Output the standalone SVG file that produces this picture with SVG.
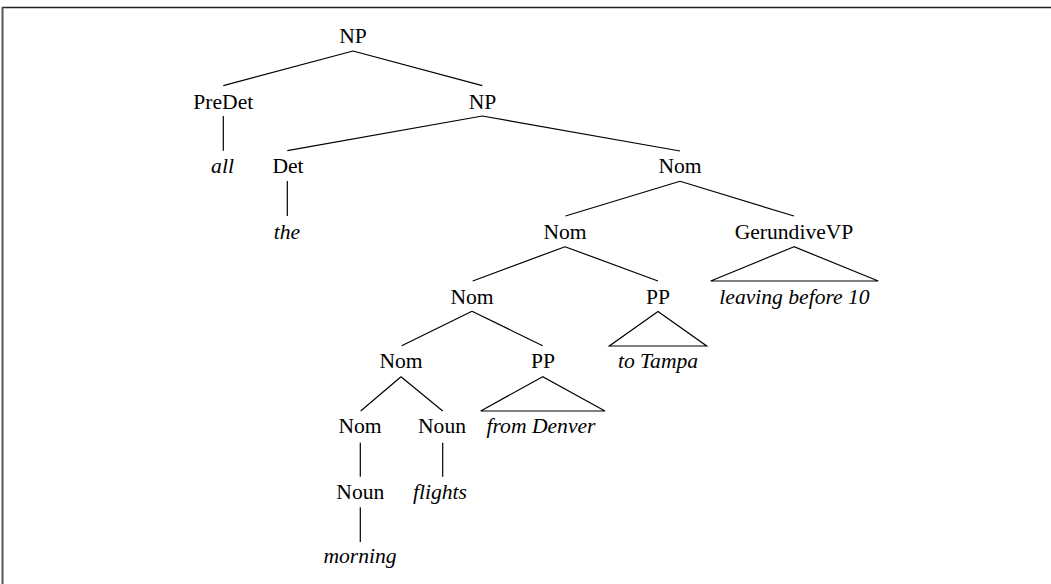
<svg xmlns="http://www.w3.org/2000/svg" width="1051" height="584" viewBox="0 0 1051 584">
<style>
text{font-family:"Liberation Serif","Times New Roman",serif;font-size:21.6px;fill:#000;text-anchor:middle}
.w{font-style:italic}
.e{stroke:#000;stroke-width:1.2;fill:none}
</style>
<rect x="0" y="0" width="1051" height="584" fill="#fff"/>
<g id="frame">
<line x1="2" y1="7.5" x2="1051" y2="7.5" stroke="#222" stroke-width="1.6"/>
<line x1="2.5" y1="7" x2="2.5" y2="584" stroke="#555" stroke-width="2"/>
</g>
<g id="connectors" class="e">
<path class="e" d="M353,51 L223.3,85.7 M353,51 L482.3,85.7"/>
<path class="e" d="M223.3,116 L223.3,150.7"/>
<path class="e" d="M482.3,116 L287.3,150.7 M482.3,116 L680,151"/>
<path class="e" d="M287.3,181 L287.3,216"/>
<path class="e" d="M680,181.3 L565.5,216 M680,181.3 L794,216"/>
<path class="e" d="M794,246.7 L710.7,281 L878.3,281 Z"/>
<path class="e" d="M565,246.7 L472.7,281 M565,246.7 L658,281"/>
<path class="e" d="M658,311.5 L609.3,346 L706.7,346 Z"/>
<path class="e" d="M472,311.3 L401.7,345.7 M472,311.3 L542.7,345.7"/>
<path class="e" d="M401,376.7 L360.7,411 M401,376.7 L442.7,411"/>
<path class="e" d="M542.7,376.7 L480.7,411 L605,411 Z"/>
<path class="e" d="M360.3,442.7 L360.3,476.7"/>
<path class="e" d="M442.7,442.7 L442.7,476.7"/>
<path class="e" d="M360.3,507.3 L360.3,542"/>
</g>
<g id="np0"><text x="353" y="42.5">NP</text></g>
<g id="predet"><text x="223.3" y="109">PreDet</text></g>
<g id="np1"><text x="482.5" y="109">NP</text></g>
<g id="all"><text class="w" x="222.5" y="173.3">all</text></g>
<g id="det"><text x="288" y="173.3">Det</text></g>
<g id="nom1"><text x="680" y="173.3">Nom</text></g>
<g id="the"><text class="w" x="287" y="238.5">the</text></g>
<g id="nom2"><text x="565" y="239">Nom</text></g>
<g id="gerundivevp"><text x="794" y="239">GerundiveVP</text></g>
<g id="nom3"><text x="472" y="304">Nom</text></g>
<g id="pp1"><text x="658" y="304">PP</text></g>
<g id="leaving"><text class="w" x="794.5" y="303.5">leaving before 10</text></g>
<g id="nom4"><text x="401" y="368.3">Nom</text></g>
<g id="pp2"><text x="543" y="368.3">PP</text></g>
<g id="totampa"><text class="w" x="658" y="368.3">to Tampa</text></g>
<g id="nom5"><text x="360" y="433.3">Nom</text></g>
<g id="noun1"><text x="442" y="433.3">Noun</text></g>
<g id="fromdenver"><text class="w" x="541" y="433.3">from Denver</text></g>
<g id="noun2"><text x="360.3" y="499.3">Noun</text></g>
<g id="flights"><text class="w" x="440" y="499.3">flights</text></g>
<g id="morning"><text class="w" x="360" y="563.3">morning</text></g>
</svg>
